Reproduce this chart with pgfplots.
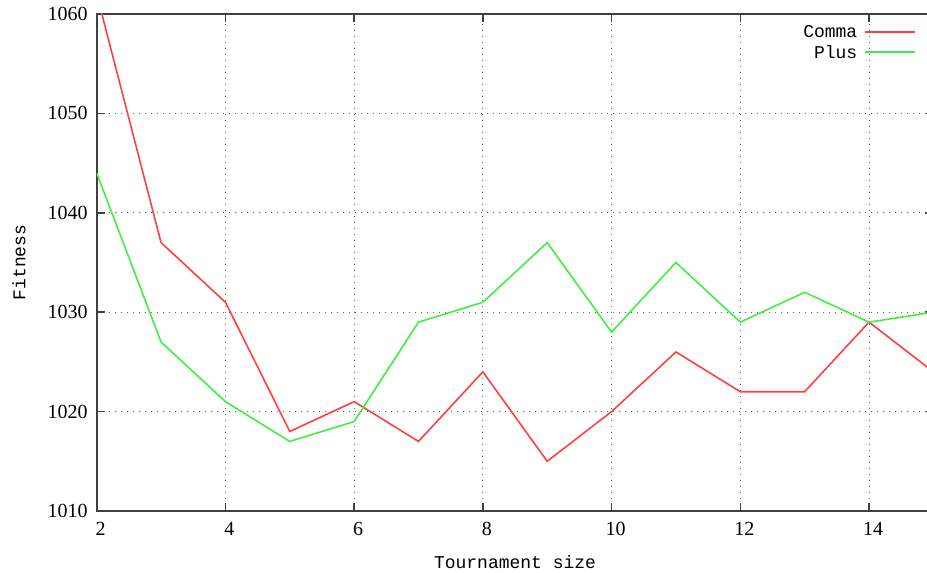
\documentclass[border=0pt]{standalone}
\usepackage{fontspec}
\setmainfont{Liberation Serif}
\newfontfamily\labelfont{Liberation Mono}
\usepackage{pgfplots}
\pgfplotsset{compat=1.18}

\definecolor{lineA}{RGB}{255,64,64}
\definecolor{lineB}{RGB}{64,240,64}
\definecolor{axisgray}{RGB}{64,64,64}

\pgfplotstableread{
size comma plus
2  1062 1044
3  1037 1027
4  1031 1021
5  1018 1017
6  1021 1019
7  1017 1029
8  1024 1031
9  1015 1037
10 1020 1028
11 1026 1035
12 1022 1029
13 1022 1032
14 1029 1029
15 1024 1030
}\fitnessdata

\begin{document}
\begin{tikzpicture}
\useasboundingbox (0,0) rectangle (463.5pt,286.5pt);
\clip (0,0) rectangle (463.5pt,286.5pt);
\begin{axis}[
  at={(48.35pt,31pt)}, anchor=south west,
  scale only axis,
  width=418.34pt, height=248.5pt,
  xmin=2, xmax=15, ymin=1010, ymax=1060,
  xtick={2,4,...,14},
  ytick={1010,1020,...,1060},
  grid=major,
  grid style={axisgray!80, line width=0.5pt, dash pattern=on 0.6pt off 2.4pt},
  axis line style={axisgray, line width=0.9pt},
  major tick length=4pt,
  tick style={axisgray, line width=0.8pt},
  tick align=inside,
  /pgf/number format/assume math mode=true,
  /pgf/number format/1000 sep={},
  tick label style={font=\fontsize{10}{12}\selectfont, black},
  xticklabel style={yshift=-2pt, xshift=2pt},
  yticklabel style={xshift=-1pt},
  xlabel={Tournament size},
  ylabel={Fitness},
  label style={font=\labelfont\fontsize{9}{11}\selectfont},
  xlabel style={at={(axis description cs:0.5,-0.103)}, anchor=center},
  ylabel style={at={(axis description cs:-0.093,0.5)}, anchor=center},
]
\addplot[draw=lineA, line width=0.8pt] table[x=size, y=comma] {\fitnessdata};
\addplot[draw=lineB, line width=0.8pt] table[x=size, y=plus] {\fitnessdata};

% key in the upper right corner: label, then a line sample
\node[anchor=east, inner sep=0pt, font=\labelfont\fontsize{9}{11}\selectfont]
  at (axis description cs:0.9095,0.9638) {Comma};
\draw[lineA, line width=0.8pt]
  (axis description cs:0.9183,0.9638) -- (axis description cs:0.978,0.9638);
\node[anchor=east, inner sep=0pt, font=\labelfont\fontsize{9}{11}\selectfont]
  at (axis description cs:0.9095,0.9235) {Plus};
\draw[lineB, line width=0.8pt]
  (axis description cs:0.9183,0.9235) -- (axis description cs:0.978,0.9235);
\end{axis}
\end{tikzpicture}
\end{document}
